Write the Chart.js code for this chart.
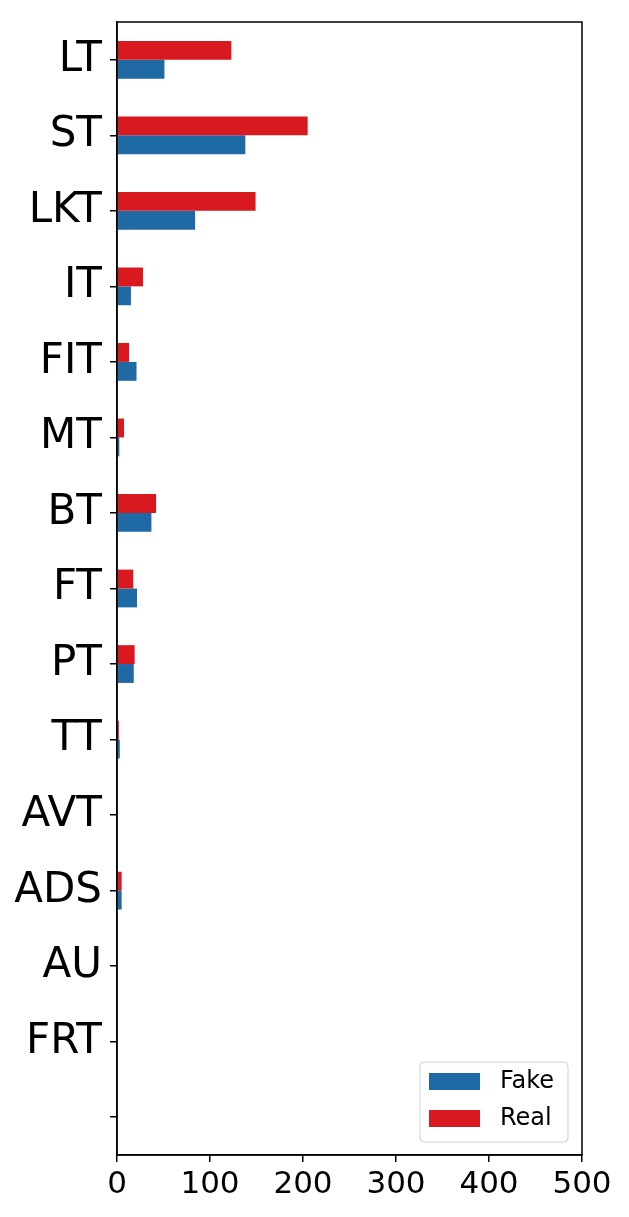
<!DOCTYPE html>
<html>
<head>
<meta charset="utf-8">
<script src="https://cdn.jsdelivr.net/npm/chart.js@4/dist/chart.umd.min.js"></script>
<style>
  html, body { margin: 0; padding: 0; background: #fff; }
  #wrap { position: relative; width: 629px; height: 1217px; }
</style>
</head>
<body>
<div id="wrap"><canvas id="result-graph"></canvas></div>
<script>
var categories = ['LT', 'ST', 'LKT', 'IT', 'FIT', 'MT', 'BT', 'FT', 'PT', 'TT', 'AVT', 'ADS', 'AU', 'FRT', ''];
var realValues = [123, 205, 149, 28, 13, 7.5, 42, 17.5, 19, 2, 0, 5, 0, 0, 0];
var fakeValues = [51, 138, 84, 15, 21, 2.5, 37, 21.5, 18, 3, 0, 5, 0, 0, 0];
var xTicks = [0, 100, 200, 300, 400, 500];

var BLUE = '#1f69a5';
var RED = '#d81a20';
var FONT = '"DejaVu Sans", sans-serif';

// full box round the plot, like the matplotlib spines
var frame = {
  id: 'frame',
  afterDatasetsDraw: function(chart) {
    var a = chart.chartArea, ctx = chart.ctx;
    ctx.save();
    ctx.strokeStyle = '#000';
    ctx.lineWidth = 1.5;
    ctx.strokeRect(a.left, a.top, a.right - a.left, a.bottom - a.top);
    ctx.restore();
  }
};

// legend inside the plot, lower right, Fake listed first
var boxLegend = {
  id: 'boxLegend',
  afterDraw: function(chart) {
    var a = chart.chartArea, ctx = chart.ctx;
    var w = 148, h = 80;
    var x = a.right - 14 - w, y = a.bottom - 13 - h;
    ctx.save();
    ctx.beginPath();
    ctx.roundRect(x, y, w, h, 4);
    ctx.fillStyle = 'rgba(255,255,255,0.8)';
    ctx.fill();
    ctx.strokeStyle = '#d0d0d0';
    ctx.lineWidth = 1;
    ctx.stroke();
    var items = [chart.data.datasets[1], chart.data.datasets[0]];
    ctx.font = '24px ' + FONT;
    ctx.textBaseline = 'middle';
    items.forEach(function(ds, i) {
      var rowY = y + 11 + i * 37;
      ctx.fillStyle = ds.backgroundColor;
      ctx.fillRect(x + 9, rowY, 51, 17);
      ctx.fillStyle = '#000';
      ctx.fillText(ds.label, x + 80, rowY + 9);
    });
    ctx.restore();
  }
};

var ctx = document.getElementById('result-graph').getContext('2d');
new Chart(ctx, {
  type: 'bar',
  data: {
    labels: categories,
    datasets: [
      { label: 'Real', data: realValues, backgroundColor: RED },
      { label: 'Fake', data: fakeValues, backgroundColor: BLUE }
    ]
  },
  options: {
    indexAxis: 'y',
    responsive: true,
    maintainAspectRatio: false,
    animation: false,
    categoryPercentage: 0.5,
    barPercentage: 1.0,
    layout: { padding: { top: 22, right: 47, left: 0, bottom: 0 } },
    plugins: {
      legend: { display: false },
      tooltip: { enabled: false }
    },
    scales: {
      x: {
        min: 0,
        max: 500,
        afterBuildTicks: function(scale) {
          scale.ticks = xTicks.map(function(v) { return { value: v }; });
        },
        afterFit: function(scale) { scale.height = 62; },
        grid: { drawOnChartArea: false, drawTicks: true, tickLength: 7, color: '#000', lineWidth: 1.5 },
        border: { display: true, color: '#000', width: 1.5 },
        ticks: { color: '#000', padding: 4, maxRotation: 0, font: { family: FONT, size: 31 } }
      },
      y: {
        offset: true,
        afterFit: function(scale) {
          scale.width = 117;
          scale.paddingTop = 0;
          scale.paddingBottom = 0;
        },
        grid: { offset: false, drawOnChartArea: false, drawTicks: true, tickLength: 7, color: '#000', lineWidth: 1.5 },
        border: { display: true, color: '#000', width: 1.5 },
        ticks: { color: '#000', padding: 8, autoSkip: false, font: { family: FONT, size: 42 } }
      }
    }
  },
  plugins: [frame, boxLegend]
});
</script>
</body>
</html>
